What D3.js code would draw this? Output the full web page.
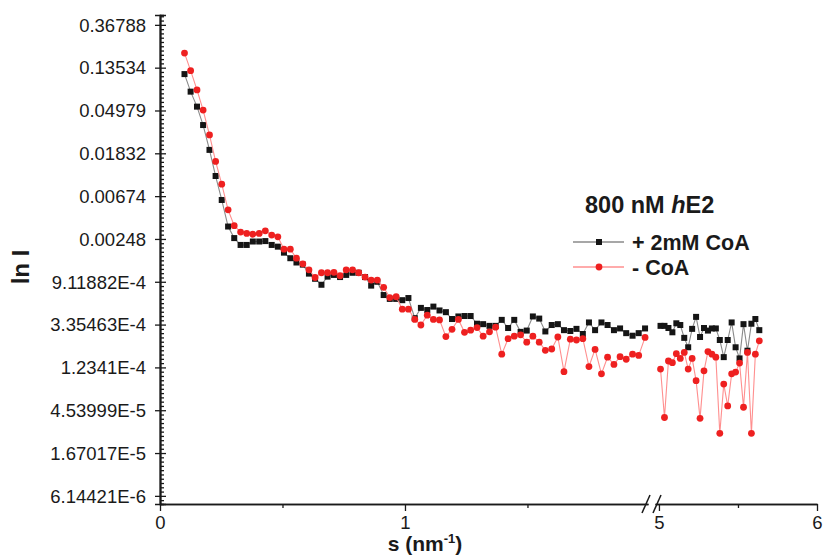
<!DOCTYPE html>
<html><head><meta charset="utf-8">
<script src="https://cdn.jsdelivr.net/npm/d3@7"></script>
<style>
body{margin:0;background:#fff}
svg{display:block}
text{font-family:"Liberation Sans",Arial,Helvetica,sans-serif;fill:#1a1a1a}
</style>
</head><body>
<svg id="c" width="824" height="556"></svg>
<script>
// ---- data (s in nm^-1, values are ln I) ----
const sSeg1 = [0.100,0.125,0.151,0.176,0.202,0.227,0.252,0.278,0.303,0.329,0.354,0.379,0.405,0.430,0.456,0.481,0.506,0.532,0.557,0.583,0.608,0.633,0.659,0.684,0.710,0.735,0.760,0.786,0.811,0.837,0.862,0.887,0.913,0.938,0.964,0.989,1.014,1.040,1.065,1.091,1.116,1.141,1.167,1.192,1.218,1.243,1.268,1.294,1.319,1.345,1.370,1.395,1.421,1.446,1.472,1.497,1.522,1.548,1.573,1.599,1.624,1.649,1.675,1.700,1.726,1.751,1.776,1.802,1.827,1.853,1.878,1.903,1.929,1.954,1.980];
const plusCoA1 = [-2.15,-2.56,-2.91,-3.34,-3.92,-4.53,-5.09,-5.71,-5.98,-6.14,-6.14,-6.06,-6.06,-6.05,-6.14,-6.18,-6.32,-6.45,-6.55,-6.60,-6.81,-6.93,-7.07,-6.88,-6.84,-6.89,-6.84,-6.79,-6.79,-6.89,-7.09,-7.00,-7.31,-7.40,-7.40,-7.43,-7.38,-7.85,-7.61,-7.66,-7.58,-7.67,-7.71,-7.87,-7.81,-7.80,-7.80,-7.98,-7.99,-8.03,-8.03,-7.89,-8.08,-7.89,-8.17,-8.14,-7.81,-7.86,-8.16,-8.01,-7.99,-8.13,-8.15,-8.10,-8.22,-7.95,-8.13,-7.95,-8.01,-8.13,-8.09,-8.20,-8.26,-8.20,-8.09];
const minusCoA1 = [-1.66,-2.07,-2.52,-2.99,-3.57,-4.19,-4.72,-5.32,-5.69,-5.84,-5.87,-5.89,-5.87,-5.81,-5.91,-5.95,-6.24,-6.24,-6.45,-6.58,-6.72,-6.90,-6.79,-6.79,-6.78,-6.86,-6.72,-6.72,-6.79,-6.89,-6.96,-6.96,-7.13,-7.37,-7.35,-7.64,-7.64,-7.88,-8.01,-7.78,-7.88,-7.89,-8.28,-8.11,-7.88,-8.18,-8.13,-8.07,-8.27,-8.17,-8.06,-8.69,-8.33,-8.27,-8.24,-8.41,-8.27,-8.41,-8.60,-8.57,-8.29,-9.10,-8.34,-8.36,-8.33,-8.98,-8.58,-9.15,-8.76,-8.93,-8.75,-8.81,-8.69,-8.72,-8.30];
const sSeg2 = [5.010,5.035,5.060,5.085,5.110,5.135,5.160,5.185,5.210,5.235,5.260,5.285,5.310,5.335,5.360,5.385,5.410,5.435,5.460,5.485,5.510,5.535,5.560,5.585,5.610,5.635];
const plusCoA2 = [-8.03,-8.03,-8.08,-8.18,-7.97,-8.01,-8.31,-8.53,-8.10,-7.82,-8.29,-8.08,-8.14,-8.09,-8.09,-8.36,-8.76,-8.36,-7.95,-8.53,-8.79,-7.99,-8.61,-7.98,-7.87,-8.13];
const minusCoA2 = [-9.04,-10.17,-8.85,-8.89,-8.68,-8.79,-8.65,-9.04,-8.79,-9.31,-10.19,-9.08,-8.63,-8.69,-8.76,-10.54,-9.39,-9.90,-9.15,-9.11,-8.90,-9.93,-8.65,-10.54,-8.69,-8.38];

const yTickLn = [-1,-2,-3,-4,-5,-6,-7,-8,-9,-10,-11,-12];
const yTickLabels = ["0.36788","0.13534","0.04979","0.01832","0.00674","0.00248","9.11882E-4","3.35463E-4","1.2341E-4","4.53999E-5","1.67017E-5","6.14421E-6"];
const xMajor1 = [0,1], xMinor1 = [0.5,1.5];
const xMajor2 = [5,6], xMinor2 = [5.5];
const seriesNames = ["+ 2mM CoA", "- CoA"];

// ---- scales ----
const svg = d3.select("#c");
const y = d3.scaleLinear().domain([-12.19, -0.77]).range([504, 15]);
const x1 = d3.scaleLinear().domain([0, 1.992]).range([160, 648]);
const x2 = d3.scaleLinear().domain([4.975, 6]).range([655, 817]);
const AX = "#1a1a1a";

// ---- y axis ----
const yMinor = d3.range(-121, -7).map(v => v / 10).filter(v => v % 1 !== 0);
const gyIn = svg.append("g").attr("transform", "translate(160,0)")
  .call(d3.axisLeft(y).tickValues(yMinor).tickSize(-4).tickFormat(""));
const gyIn2 = svg.append("g").attr("transform", "translate(160,0)")
  .call(d3.axisLeft(y).tickValues(yTickLn).tickSize(-6).tickFormat(""));
const gy = svg.append("g").attr("transform", "translate(160,0)")
  .call(d3.axisLeft(y).tickValues(yTickLn).tickSize(5).tickPadding(9)
    .tickFormat((d, i) => yTickLabels[i]));
[gyIn, gyIn2, gy].forEach(g => {
  g.selectAll("path.domain").attr("stroke", AX).attr("stroke-width", 1.6);
  g.selectAll(".tick line").attr("stroke", AX).attr("stroke-width", 1.3);
});
gy.selectAll("text").style("font-size", "18.5px").attr("fill", "#1a1a1a").attr("dy", "0.34em");

// ---- x axis (broken) ----
function xAxis(scale, major, minor) {
  const gm = svg.append("g").attr("transform", "translate(0,504)")
    .call(d3.axisBottom(scale).tickValues(minor).tickSize(4).tickFormat("").tickSizeOuter(0));
  const g = svg.append("g").attr("transform", "translate(0,504)")
    .call(d3.axisBottom(scale).tickValues(major).tickSize(7).tickPadding(5)
      .tickFormat(d3.format("d")).tickSizeOuter(0));
  [gm, g].forEach(a => {
    a.selectAll("path.domain").attr("stroke", AX).attr("stroke-width", 1.6);
    a.selectAll(".tick line").attr("stroke", AX).attr("stroke-width", 1.3);
  });
  g.selectAll("text").style("font-size", "18.5px").attr("fill", "#1a1a1a");
}
xAxis(x1, xMajor1, xMinor1);
xAxis(x2, xMajor2, xMinor2);

// break marks
const brk = svg.append("g").attr("stroke", AX).attr("stroke-width", 1.5);
[646, 657].forEach(bx => {
  brk.append("line").attr("x1", bx - 4).attr("y1", 513).attr("x2", bx + 4).attr("y2", 495);
});

// ---- series ----
function drawSeries(xs, s, vals, lineColor, kind, color) {
  const pts = s.map((v, i) => [xs(v), y(vals[i])]);
  svg.append("path").attr("d", d3.line()(pts)).attr("fill", "none")
    .attr("stroke", lineColor).attr("stroke-width", 1.1);
  const g = svg.append("g");
  if (kind === "sq") {
    g.selectAll("rect").data(pts).join("rect")
      .attr("x", d => d[0] - 3).attr("y", d => d[1] - 3)
      .attr("width", 6).attr("height", 6).attr("fill", color);
  } else {
    g.selectAll("circle").data(pts).join("circle")
      .attr("cx", d => d[0]).attr("cy", d => d[1]).attr("r", 3.4).attr("fill", color);
  }
}
const blackLine = "#8a8a8a", blackMark = "#151515";
const redLine = "#ff8f8f", redMark = "#ee2020";
drawSeries(x1, sSeg1, plusCoA1, blackLine, "sq", blackMark);
drawSeries(x2, sSeg2, plusCoA2, blackLine, "sq", blackMark);
drawSeries(x1, sSeg1, minusCoA1, redLine, "ci", redMark);
drawSeries(x2, sSeg2, minusCoA2, redLine, "ci", redMark);

// ---- axis titles ----
const xt = svg.append("text").attr("x", 425).attr("y", 551).attr("text-anchor", "middle")
  .style("font-size", "21px").style("font-weight", "bold");
xt.append("tspan").text("s (nm");
xt.append("tspan").attr("dy", -8).style("font-size", "13px").text("-1");
xt.append("tspan").attr("dy", 8).text(")");

svg.append("text").attr("transform", "translate(29,267) rotate(-90)")
  .attr("text-anchor", "middle").style("font-size", "24px").style("font-weight", "bold")
  .text("ln I");

// ---- legend ----
const lt = svg.append("text").attr("x", 585).attr("y", 213)
  .style("font-size", "23.5px").style("font-weight", "bold");
lt.append("tspan").text("800 nM ");
lt.append("tspan").style("font-style", "italic").text("h");
lt.append("tspan").text("E2");

const leg = [
  {name: seriesNames[0], line: blackLine, mark: blackMark, kind: "sq", yy: 242},
  {name: seriesNames[1], line: redLine, mark: redMark, kind: "ci", yy: 267}
];
leg.forEach(d => {
  svg.append("line").attr("x1", 573).attr("x2", 624).attr("y1", d.yy).attr("y2", d.yy)
    .attr("stroke", d.line).attr("stroke-width", 1.3);
  if (d.kind === "sq") svg.append("rect").attr("x", 596).attr("y", d.yy - 3).attr("width", 6).attr("height", 6).attr("fill", d.mark);
  else svg.append("circle").attr("cx", 599).attr("cy", d.yy).attr("r", 3.4).attr("fill", d.mark);
  svg.append("text").attr("x", 632).attr("y", d.yy + 8)
    .style("font-size", "21.5px").style("font-weight", "bold").text(d.name);
});
</script>
</body></html>
